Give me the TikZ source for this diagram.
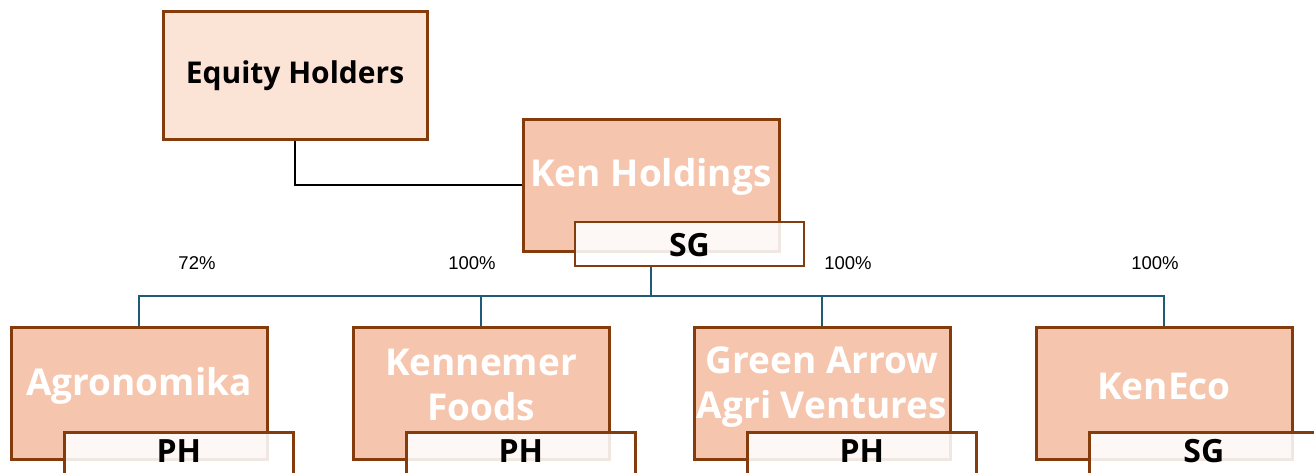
\documentclass[tikz,border=0pt]{standalone}
\usepackage{fontspec}
\setmainfont{Open Sans}
\newfontfamily\pctfont{Liberation Sans}
\usetikzlibrary{backgrounds}
\definecolor{brd}{HTML}{843C0C}
\definecolor{lightfill}{HTML}{FBE3D6}
\definecolor{midfill}{HTML}{F5C6AD}
\definecolor{conn}{HTML}{1F5A78}
\tikzset{
  boxbase/.style={draw=brd, line width=3pt, inner sep=0pt},
  topbox/.style={boxbase, fill=lightfill, minimum width=264pt, minimum height=128pt},
  orgbox/.style={boxbase, fill=midfill, minimum width=256pt, minimum height=132pt},
  tagbox/.style={boxbase, line width=2.6pt, fill=white, fill opacity=0.88, minimum width=229pt, minimum height=44pt},
  whitetext/.style={text=white, font=\bfseries\fontsize{37}{45}\selectfont, align=center, inner sep=0pt},
  blacktext/.style={text=black, font=\bfseries\fontsize{30}{34}\selectfont, inner sep=0pt},
  tagtext/.style={text=black, font=\bfseries\fontsize{32}{34}\selectfont, inner sep=0pt},
  pct/.style={text=black, font=\pctfont\fontsize{18.5}{20}\selectfont, inner sep=0pt},
  blueline/.style={draw=conn, line width=2.2pt},
  blackline/.style={draw=black, line width=2.2pt}
}
\begin{document}
\begin{tikzpicture}[x=1pt,y=-1pt]
\useasboundingbox (0,0) rectangle (1314,472);
\node[topbox] (eq) at (295,75) {};
\node[orgbox] (ken) at (651,185) {};
\node[orgbox] (agro) at (139,393) {};
\node[orgbox] (kenn) at (481,393) {};
\node[orgbox] (green) at (822,393) {};
\node[orgbox] (keneco) at (1164,393) {};
\node[tagbox] (sg) at (689.5,244) {};
\coordinate (drop) at (651,266);
\coordinate (bus) at (651,296);
% texts
\node[blacktext] (eqT) at (295,76) {Equity Holders};
\node[whitetext] (kenT) at (651,177) {Ken Holdings};
\node[tagtext] (sgT) at (689.5,245) {SG};
\node[whitetext] (agroT) at (139,386) {Agronomika};
\node[whitetext] (kennT) at (481,385) {Kennemer\\Foods};
\node[whitetext] (greenT) at (822,387) {Green Arrow\\Agri Ventures};
\node[whitetext] (kenecoT) at (1164,386) {KenEco};
% tags
\node[tagbox, anchor=north west] (t1) at (63,431) {};
\node[tagbox, anchor=north west] (t2) at (405,431) {};
\node[tagbox, anchor=north west] (t3) at (746,431) {};
\node[tagbox, anchor=north west] (t4) at (1088,431) {};
\node[tagtext] (t1T) at (t1.center |- 0,451) {PH};
\node[tagtext] (t2T) at (t2.center |- 0,451) {PH};
\node[tagtext] (t3T) at (t3.center |- 0,451) {PH};
\node[tagtext] (t4T) at (t4.center |- 0,451) {SG};
% percentages
\node[pct] (p1) at (197,263) {72\%};
\node[pct] (p2) at (472,263) {100\%};
\node[pct] (p3) at (848,263) {100\%};
\node[pct] (p4) at (1155,263) {100\%};
% connectors behind
\begin{scope}[on background layer]
\draw[blackline] (eq.south) |- (ken.west);
\draw[blueline] (drop) -- (bus);
\draw[blueline] (agro.north) -- (agro.north |- bus) -- (keneco.north |- bus) -- (keneco.north);
\draw[blueline] (kenn.north) -- (kenn.north |- bus);
\draw[blueline] (green.north) -- (green.north |- bus);
\end{scope}
\end{tikzpicture}
\end{document}
